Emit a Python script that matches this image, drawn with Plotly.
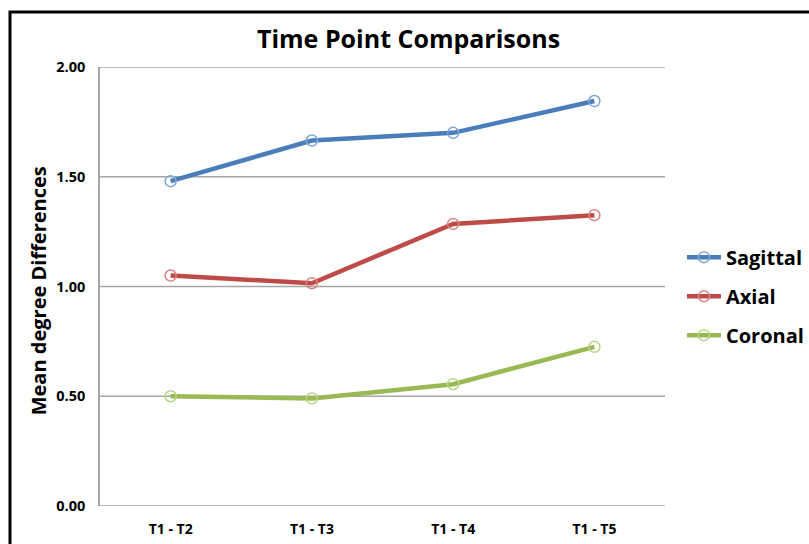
import plotly.graph_objects as go

categories = ["T1 - T2", "T1 - T3", "T1 - T4", "T1 - T5"]
sagittal = [1.48, 1.665, 1.70, 1.845]
axial = [1.05, 1.015, 1.285, 1.325]
coronal = [0.50, 0.49, 0.555, 0.725]
y_ticks = [0.0, 0.5, 1.0, 1.5, 2.0]
y_tick_labels = ["0.00", "0.50", "1.00", "1.50", "2.00"]

series = [
    ("Sagittal", sagittal, "#4A7EBB", "#7FA5D6"),
    ("Axial", axial, "#BE4B48", "#D98583"),
    ("Coronal", coronal, "#98B954", "#B9D483"),
]

FONT = "Open Sans"
GRID = "#A6A6A6"

fig = go.Figure()
for name, vals, col, mcol in series:
    fig.add_trace(go.Scatter(
        x=categories, y=vals, name=name, mode="lines+markers",
        legendgroup=name,
        line=dict(color=col, width=4.5),
        marker=dict(symbol="circle-open", size=11, color=mcol,
                    line=dict(width=1.5, color=mcol)),
    ))

# horizontal rules at every tick, including the range ends
shapes = [dict(type="line", xref="paper", yref="y", x0=0, x1=1, y0=v, y1=v,
               line=dict(color=GRID, width=1.5), layer="below")
          for v in y_ticks]
# outer frame
shapes.append(dict(type="rect", xref="paper", yref="paper",
                   x0=-0.1593, x1=1.27, y0=-0.1, y1=1.1253,
                   line=dict(color="black", width=3), layer="below"))

fig.update_layout(
    width=809, height=544,
    margin=dict(l=100, r=144, t=67, b=38, autoexpand=False),
    paper_bgcolor="white", plot_bgcolor="white",
    font=dict(family=FONT, color="black"),
    title=dict(text="<b>Time Point Comparisons</b>", x=0.505, xanchor="center",
               y=0.927, yanchor="middle", font=dict(size=25, family=FONT)),
    showlegend=True,
    legend=dict(x=1.03, xanchor="left", y=0.478, yanchor="middle",
                font=dict(size=20, family=FONT, weight="bold"),
                tracegroupgap=10, itemwidth=34, bgcolor="rgba(0,0,0,0)"),
    xaxis=dict(range=[-0.5, 3.5], showgrid=False, showline=False,
               ticks="outside", ticklen=10, tickcolor="rgba(0,0,0,0)",
               tickfont=dict(size=14, family=FONT, weight="bold"),
               zeroline=False),
    yaxis=dict(range=[0, 2.0], tickvals=y_ticks, ticktext=y_tick_labels,
               showgrid=False,
               showline=True, linecolor=GRID, linewidth=1.5,
               ticks="", ticklabelstandoff=10, zeroline=False,
               tickfont=dict(size=14.5, family=FONT, weight="bold")),
    annotations=[dict(text="<b>Mean degree Differences</b>", textangle=-90,
                      xref="paper", yref="paper", x=-0.109, y=0.49,
                      xanchor="center", yanchor="middle", showarrow=False,
                      font=dict(size=20, family=FONT, weight="bold"))],
    shapes=shapes,
)
fig.write_html("out.html")
